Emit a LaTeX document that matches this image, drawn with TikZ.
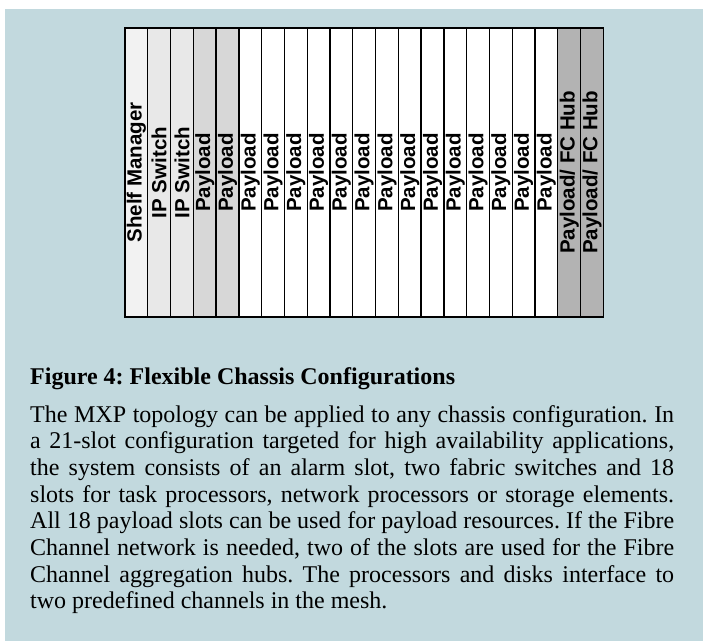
\documentclass[tikz,border=0pt]{standalone}
\usepackage{fontspec}
\setmainfont{Liberation Serif}
\newfontfamily\labelfont{Liberation Sans}
\definecolor{bgblue}{HTML}{C2D9DE}
\definecolor{smgray}{HTML}{F2F2F2}
\definecolor{ipgray}{HTML}{E8E8E8}
\definecolor{plgray}{HTML}{D7D7D7}
\definecolor{fcgray}{HTML}{B3B3B3}
\tikzset{
  slotbox/.style={draw=black, line width=1.3pt, rotate=90, minimum width=289pt,
    minimum height=22.78pt, inner sep=0pt, font=\labelfont\bfseries\fontsize{20.5}{22}\selectfont},
  bodyline/.style={anchor=base west, inner sep=0pt, font=\frenchspacing\fontsize{24}{27}\selectfont},
}
\newcommand{\jline}[1]{\makebox[644pt][s]{#1}}
\begin{document}
\begin{tikzpicture}[x=1pt,y=-1pt]
\useasboundingbox (0,0) rectangle (703,641);
\fill[white] (0,0) rectangle (703,641);
\fill[bgblue] (4.5,9) rectangle (703,641);
% slots
\foreach \i/\lab/\col in {1/Shelf Manager/smgray, 2/IP Switch/ipgray, 3/IP Switch/ipgray,
  4/Payload/plgray, 5/Payload/plgray, 6/Payload/white, 7/Payload/white, 8/Payload/white,
  9/Payload/white, 10/Payload/white, 11/Payload/white, 12/Payload/white, 13/Payload/white,
  14/Payload/white, 15/Payload/white, 16/Payload/white, 17/Payload/white, 18/Payload/white,
  19/Payload/white, 20/{Payload/ FC Hub}/fcgray, 21/{Payload/ FC Hub}/fcgray}{
  \node[slotbox, fill=\col] (s\i) at ({125+(\i-0.5)*22.78}, 172.5) {\lab};
}
% caption
\node[bodyline, font=\frenchspacing\bfseries\fontsize{24}{27}\selectfont] (cap) at (30,384) {Figure 4: Flexible Chassis Configurations};
\node[bodyline] (l1) at (30,422) {\jline{The MXP topology can be applied to any chassis configuration. In}};
\node[bodyline] (l2) at (30,448.7) {\jline{a 21-slot configuration targeted for high availability applications,}};
\node[bodyline] (l3) at (30,475.4) {\jline{the system consists of an alarm slot, two fabric switches and 18}};
\node[bodyline] (l4) at (30,502.1) {\jline{slots for task processors, network processors or storage elements.}};
\node[bodyline] (l5) at (30,528.8) {\jline{All 18 payload slots can be used for payload resources. If the Fibre}};
\node[bodyline] (l6) at (30,555.5) {\jline{Channel network is needed, two of the slots are used for the Fibre}};
\node[bodyline] (l7) at (30,582.2) {\jline{Channel aggregation hubs. The processors and disks interface to}};
\node[bodyline] (l8) at (30,608.9) {two predefined channels in the mesh.};
\end{tikzpicture}
\end{document}
